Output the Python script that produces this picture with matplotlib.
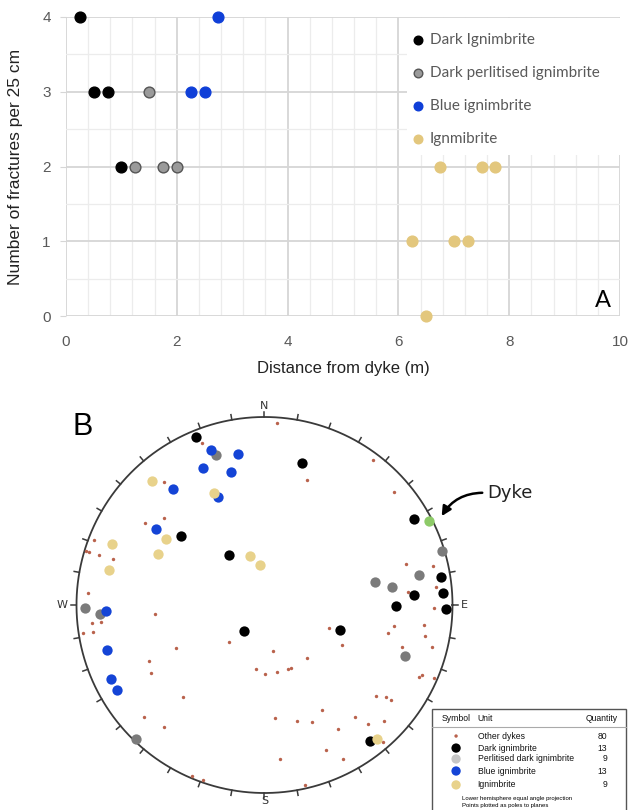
import numpy as np
import matplotlib.pyplot as plt
from matplotlib.patches import Rectangle, FancyArrowPatch

plt.rcParams['font.family'] = ['Liberation Sans', 'DejaVu Sans']

# ---------------- Panel A : fractures vs distance ----------------
dark_x = [0.25, 0.5, 0.75, 1.0]
dark_y = [4, 3, 3, 2]
perl_x = [1.5, 1.25, 1.75, 2.0]
perl_y = [3, 2, 2, 2]
blue_x = [2.75, 2.25, 2.5]
blue_y = [4, 3, 3]
ign_x = [6.75, 7.5, 7.75, 6.25, 7.0, 7.25, 6.5]
ign_y = [2, 2, 2, 1, 1, 1, 0]
labels_a = ["Dark Ignimbrite", "Dark perlitised ignimbrite", "Blue ignimbrite", "Ignmibrite"]

# ---------------- Panel B : stereonet (pole positions, east / north, net radius = 1) ----------------
dark_pole_e = [-0.366, 0.201, 0.795, -0.444, -0.189, 0.939, 0.948, 0.795, 0.700, 0.966, -0.109, 0.403, 0.561]
dark_pole_n = [0.895, 0.757, 0.457, 0.369, 0.266, 0.147, 0.066, 0.053, -0.004, -0.020, -0.138, -0.133, -0.723]
perl_pole_e = [-0.260, 0.942, 0.824, 0.588, 0.680, -0.955, -0.875, 0.749, -0.685]
perl_pole_n = [0.798, 0.287, 0.160, 0.122, 0.094, -0.018, -0.050, -0.271, -0.711]
blue_pole_e = [-0.286, -0.143, -0.329, -0.180, -0.485, -0.246, -0.577, -0.845, -0.840, -0.816, -0.783]
blue_pole_n = [0.824, 0.801, 0.727, 0.706, 0.615, 0.576, 0.402, -0.030, -0.239, -0.395, -0.452]
ign_pole_e = [-0.597, -0.269, -0.811, -0.524, -0.566, -0.825, -0.075, -0.026, 0.600]
ign_pole_n = [0.660, 0.594, 0.324, 0.349, 0.273, 0.188, 0.261, 0.211, -0.715]
dyke_pole_e = [0.875]
dyke_pole_n = [0.445]
other_e = [0.066, -0.331, 0.579, 0.224, -0.533, 0.689, -0.636, -0.533, -0.908, -0.951, -0.932,
           -0.882, -0.808, 0.751, 0.894, -0.937, 0.912, 0.765, 0.902, -0.581, -0.875, -0.870,
           -0.918, -0.910, -0.964, 0.341, 0.689, 0.655, 0.848, 0.854, -0.187, 0.412, -0.473,
           0.733, 0.889, 0.043, 0.224, -0.613, -0.045, 0.005, 0.066, 0.127, 0.139, -0.604,
           0.822, 0.838, 0.903, -0.432, 0.593, 0.647, 0.671, 0.308, -0.639, 0.058, 0.173,
           0.255, 0.481, 0.552, 0.636, -0.533, 0.391, 0.632, 0.325, 0.084, 0.416, -0.387,
           -0.325, 0.217]
other_n = [0.966, 0.860, 0.771, 0.665, 0.654, 0.603, 0.436, 0.461, 0.346, 0.289, 0.284,
           0.268, 0.245, 0.216, 0.209, 0.066, 0.098, 0.067, -0.014, -0.050, -0.062, -0.089,
           -0.094, -0.142, -0.151, -0.121, -0.112, -0.151, -0.105, -0.165, -0.197, -0.213, -0.229,
           -0.225, -0.222, -0.245, -0.284, -0.296, -0.339, -0.365, -0.358, -0.339, -0.333, -0.360,
           -0.381, -0.374, -0.390, -0.488, -0.482, -0.488, -0.505, -0.559, -0.594, -0.599, -0.615,
           -0.622, -0.596, -0.633, -0.615, -0.651, -0.660, -0.730, -0.773, -0.821, -0.817, -0.910,
           -0.931, -0.959]
table_units = ["Other dykes", "Dark ignimbrite", "Perlitised dark ignimbrite", "Blue ignimbrite", "Ignimbrite"]
table_qty = [80, 13, 9, 13, 9]

W, H = 633, 810
fig = plt.figure(figsize=(W / 100, H / 100), dpi=100)

# ---- A ----
ax = fig.add_axes([66 / W, 1 - 316 / H, 554 / W, 299 / H])
ax.set_xlim(0, 10)
ax.set_ylim(0, 4)
ax.set_xticks(np.arange(0, 11, 2))
ax.set_xticks(np.arange(0, 10.01, 0.4), minor=True)
ax.set_yticks(np.arange(0, 5, 1))
ax.set_yticks(np.arange(0, 4.01, 0.5), minor=True)
ax.set_axisbelow(True)
ax.grid(which='major', color='#d6d6d6', lw=1.3)
ax.grid(which='minor', color='#ececec', lw=0.9)
for s in ax.spines.values():
    s.set_visible(False)
ax.tick_params(axis='x', which='both', length=0, pad=14, labelsize=11, labelcolor='#595959')
ax.tick_params(axis='y', which='major', length=4, color='#d6d6d6', pad=7, labelsize=11, labelcolor='#595959')
ax.tick_params(axis='y', which='minor', length=0)
ax.set_xlabel("Distance from dyke (m)", fontsize=12, color='#222222')
ax.xaxis.set_label_coords(0.5, -0.15)
ax.set_ylabel("Number of fractures per 25 cm", fontsize=12.5, color='#222222')
ax.yaxis.set_label_coords(-0.078, 0.5)

# white box behind the legend hides the grid there
ax.add_patch(Rectangle((6.16, 2.15), 3.84, 1.83, facecolor='white', edgecolor='none', zorder=1))

ms = 60
ax.scatter(dark_x, dark_y, s=ms, color='black', label=labels_a[0], zorder=3, clip_on=False)
ax.scatter(perl_x, perl_y, s=ms, color='#9a9a9a', edgecolor='#555555', lw=1, label=labels_a[1], zorder=3, clip_on=False)
ax.scatter(blue_x, blue_y, s=ms, color='#0f3fd8', label=labels_a[2], zorder=3, clip_on=False)
ax.scatter(ign_x, ign_y, s=ms, color='#e3c77d', label=labels_a[3], zorder=3, clip_on=False)
leg = ax.legend(loc='upper left', bbox_to_anchor=(0.61, 0.968), frameon=False,
                prop={'family': 'Lato', 'size': 11}, labelcolor='#595959',
                handletextpad=0.3, labelspacing=1.25, borderaxespad=0, handlelength=1.0,
                markerscale=0.8)
ax.text(9.69, 0.21, "A", fontsize=17, ha='center', va='center', family='Lato')

# ---- B ----
bx = fig.add_axes([0, 0, 1, 440 / H])
bx.set_xlim(-264.5 / 188, 368.5 / 188)
bx.set_ylim(-205 / 188, 235 / 188)
bx.axis('off')

t = np.linspace(0, 2 * np.pi, 400)
bx.plot(np.cos(t), np.sin(t), color='#3a3a3a', lw=1.3)
for az in np.radians(np.arange(0, 360, 10)):
    bx.plot([np.sin(az), 1.028 * np.sin(az)], [np.cos(az), 1.028 * np.cos(az)], color='#3a3a3a', lw=1.1)
lab_kw = dict(fontsize=8, color='#333333', ha='center', va='center', family='DejaVu Sans')
bx.text(0, 1.06, "N", **lab_kw)
bx.text(1.065, 0, "E", **lab_kw)
bx.text(0, -1.04, "S", **lab_kw)
bx.text(-1.075, 0, "W", **lab_kw)

big = 55
bx.scatter(other_e, other_n, s=6, color='#b9624c', lw=0, zorder=2)
bx.scatter(perl_pole_e, perl_pole_n, s=big, color='#7b7b7b', lw=0, zorder=3)
bx.scatter(dark_pole_e, dark_pole_n, s=big, color='black', lw=0, zorder=4)
bx.scatter(blue_pole_e, blue_pole_n, s=big, color='#1444d6', lw=0, zorder=5)
bx.scatter(ign_pole_e, ign_pole_n, s=big, color='#e8d28b', lw=0, zorder=6)
bx.scatter(dyke_pole_e, dyke_pole_n, s=big, color='#8dca68', lw=0, zorder=6)

bx.text(-0.965, 0.947, "B", fontsize=22, ha='center', va='center')
bx.text(1.183, 0.597, "Dyke", fontsize=13, ha='left', va='center', family='DejaVu Sans', color='#222222')
bx.add_patch(FancyArrowPatch((1.173, 0.597), (0.935, 0.460), connectionstyle="arc3,rad=0.3",
                             arrowstyle='-|>', mutation_scale=14, lw=1.8, color='black'))

# legend table
bx.add_patch(Rectangle((0.891, -1.2), 1.03, 0.647, facecolor='white', edgecolor='#555555', lw=1, zorder=7))
bx.plot([0.891, 1.921], [-0.649, -0.649], color='#aaaaaa', lw=0.8, zorder=8)
tkw = dict(fontsize=6.2, va='center', zorder=8, color='#111111')
bx.text(0.943, -0.606, "Symbol", ha='left', **tkw)
bx.text(1.134, -0.606, "Unit", ha='left', **tkw)
bx.text(1.877, -0.606, "Quantity", ha='right', **tkw)
row_y = [-0.697, -0.761, -0.819, -0.883, -0.957]
sym_col = ['#b9624c', 'black', '#c6c6c6', '#1444d6', '#e8d28b']
sym_s = [6, 45, 45, 45, 45]
bx.scatter([1.019] * 5, row_y, s=sym_s, color=sym_col, lw=0, zorder=8)
for yy, u, q in zip(row_y, table_units, table_qty):
    bx.text(1.134, yy, u, ha='left', **tkw)
    bx.text(1.823, yy, str(q), ha='right', **tkw)
bx.text(1.049, -1.027, "Lower hemisphere equal angle projection", fontsize=4.3, ha='left', va='center', zorder=8)
bx.text(1.049, -1.069, "Points plotted as poles to planes", fontsize=4.3, ha='left', va='center', zorder=8)

fig.savefig("out.png", dpi=100)
